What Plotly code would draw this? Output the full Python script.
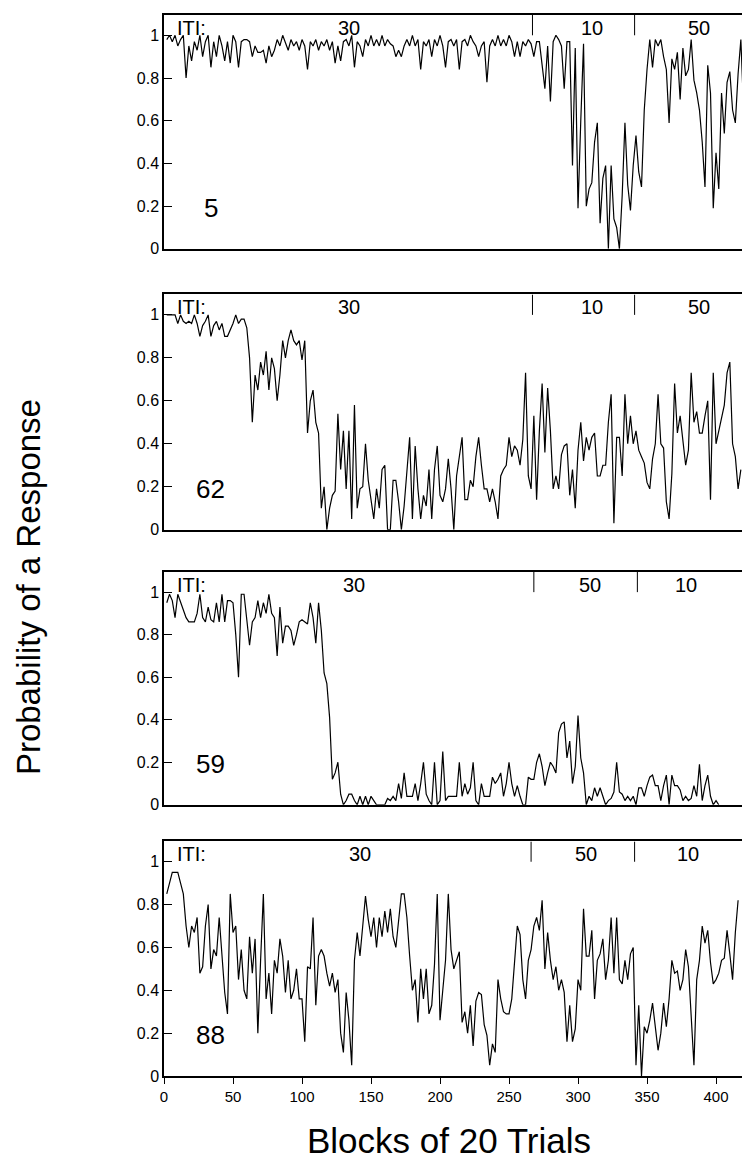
import plotly.graph_objects as go
from plotly.subplots import make_subplots

# probability of a response, one value every 2 blocks (blocks 2, 4, 6, ...)
p_rat5 = [
    0.98, 1.0, 0.97, 1.0, 0.95, 0.98, 1.0,
    0.80, 0.95, 0.88, 0.97, 0.93, 1.0, 0.9, 0.97,
    1.0, 0.85, 0.97, 0.9, 1.0, 0.95, 0.88, 0.97,
    0.87, 1.0, 0.97, 0.85, 0.97, 0.98, 0.98, 0.97,
    0.9, 0.95, 0.92, 0.92, 0.93, 0.87, 0.95, 0.9,
    0.93, 0.98, 0.95, 1.0, 0.96, 0.93, 0.98, 0.95,
    0.97, 0.93, 0.98, 0.95, 0.84, 0.97, 0.95, 0.98,
    0.93, 0.97, 0.95, 0.98, 0.93, 0.97, 0.87, 0.95,
    0.88, 0.97, 0.98, 0.95, 1.0, 0.85, 0.97, 0.95,
    0.9, 0.98, 0.95, 1.0, 0.95, 0.98, 0.95, 1.0,
    0.95, 0.98, 0.96, 0.95, 0.9, 0.93, 0.9, 0.95,
    0.98, 0.95, 1.0, 0.95, 0.98, 0.84, 0.97, 0.95,
    0.98, 0.9, 0.98, 0.95, 1.0, 0.95, 0.85, 0.97,
    0.98, 0.95, 0.98, 0.84, 0.97, 0.98, 0.95, 1.0,
    0.97, 0.95, 0.9, 0.95, 0.97, 0.78, 0.95, 0.98,
    0.95, 1.0, 0.95, 0.98, 0.95, 1.0, 0.97, 0.9,
    0.97, 0.9, 0.97, 0.95, 0.98, 0.96, 0.9, 0.97,
    0.97, 0.85, 0.75, 0.95, 0.69, 0.97, 1.0, 0.98,
    0.95, 0.75, 0.97, 0.97, 0.39, 0.94, 0.19, 0.6,
    0.96, 0.2, 0.28, 0.31, 0.5, 0.59, 0.12, 0.33,
    0.39, 0.0, 0.39, 0.14, 0.1, 0.0, 0.25, 0.59,
    0.3, 0.18, 0.39, 0.53, 0.36, 0.29, 0.65, 0.84,
    0.98, 0.85, 0.98, 0.95, 0.98, 0.9, 0.84, 0.59,
    0.89, 0.84, 0.92, 0.7, 0.94, 0.81, 0.84, 0.98,
    0.79, 0.73, 0.65, 0.5, 0.29, 0.86, 0.73, 0.19,
    0.45, 0.28, 0.73, 0.54, 0.78, 0.83, 0.65, 0.59,
    0.82, 0.98, 0.65,
]

p_rat62 = [
    1.0, 1.0, 1.0, 1.0, 0.96, 1.0, 0.97, 0.96,
    0.97, 0.96, 1.0, 0.96, 0.9, 0.95, 0.97, 1.0,
    0.9, 0.95, 0.97, 0.93, 0.96, 0.9, 0.9, 0.93,
    0.96, 1.0, 0.96, 0.98, 0.98, 0.94, 0.8, 0.5,
    0.72, 0.65, 0.78, 0.72, 0.83, 0.65, 0.8, 0.75,
    0.6, 0.72, 0.88, 0.8, 0.88, 0.93, 0.88, 0.86,
    0.88, 0.79, 0.88, 0.45, 0.6, 0.65, 0.5, 0.45,
    0.1, 0.2, 0.0, 0.1, 0.16, 0.18, 0.54, 0.28,
    0.46, 0.19, 0.46, 0.05, 0.58, 0.1, 0.19, 0.2,
    0.4, 0.23, 0.15, 0.05, 0.19, 0.1, 0.28, 0.3,
    0.0, 0.0, 0.23, 0.23, 0.13, 0.0, 0.11, 0.28,
    0.43, 0.05, 0.39, 0.19, 0.05, 0.16, 0.11, 0.28,
    0.05, 0.28, 0.39, 0.16, 0.13, 0.19, 0.33, 0.19,
    0.0, 0.25, 0.33, 0.43, 0.14, 0.14, 0.23, 0.2,
    0.34, 0.43, 0.3, 0.19, 0.19, 0.13, 0.19, 0.13,
    0.05, 0.25, 0.28, 0.3, 0.43, 0.34, 0.39, 0.37,
    0.3, 0.42, 0.73, 0.25, 0.19, 0.53, 0.14, 0.46,
    0.68, 0.36, 0.66, 0.46, 0.19, 0.25, 0.19, 0.35,
    0.39, 0.4, 0.16, 0.28, 0.1, 0.37, 0.5, 0.32,
    0.43, 0.37, 0.43, 0.45, 0.25, 0.25, 0.3, 0.3,
    0.5, 0.63, 0.03, 0.43, 0.43, 0.25, 0.63, 0.4,
    0.53, 0.4, 0.46, 0.37, 0.34, 0.31, 0.22, 0.19,
    0.33, 0.4, 0.63, 0.4, 0.38, 0.13, 0.05, 0.26,
    0.68, 0.45, 0.53, 0.42, 0.3, 0.37, 0.73, 0.5,
    0.55, 0.45, 0.45, 0.53, 0.6, 0.14, 0.73, 0.4,
    0.46, 0.53, 0.58, 0.73, 0.78, 0.4, 0.34, 0.19,
    0.28,
]

p_rat59 = [
    0.95, 0.99, 0.96, 0.88, 0.99, 0.95, 0.91, 0.88,
    0.86, 0.86, 0.86, 0.9, 0.99, 0.88, 0.86, 0.93,
    0.87, 0.86, 0.95, 0.86, 0.99, 0.86, 0.96, 0.96,
    0.95, 0.8, 0.6, 0.99, 0.99, 0.87, 0.75, 0.86,
    0.88, 0.96, 0.88, 0.95, 0.9, 0.99, 0.9, 0.88,
    0.7, 0.93, 0.76, 0.84, 0.84, 0.82, 0.75, 0.8,
    0.86, 0.87, 0.86, 0.85, 0.95, 0.88, 0.76, 0.95,
    0.82, 0.62, 0.57, 0.41, 0.12, 0.15, 0.2, 0.05,
    0.0, 0.02, 0.05, 0.05, 0.02, 0.0, 0.04, 0.0,
    0.04, 0.0, 0.04, 0.02, 0.0, 0.0, 0.0, 0.0,
    0.03, 0.02, 0.04, 0.02, 0.1, 0.03, 0.15, 0.04,
    0.04, 0.04, 0.1, 0.02, 0.1, 0.2, 0.05, 0.02,
    0.0, 0.2, 0.0, 0.02, 0.25, 0.02, 0.04, 0.04,
    0.04, 0.04, 0.2, 0.04, 0.1, 0.05, 0.08, 0.2,
    0.02, 0.0, 0.1, 0.04, 0.04, 0.04, 0.13, 0.1,
    0.12, 0.15, 0.04, 0.1, 0.2, 0.1, 0.04, 0.09,
    0.04, 0.0, 0.0, 0.13, 0.12, 0.12, 0.2, 0.24,
    0.18, 0.09, 0.15, 0.2, 0.18, 0.15, 0.34, 0.38,
    0.39, 0.22, 0.3, 0.1, 0.18, 0.42, 0.22, 0.15,
    0.0, 0.04, 0.02, 0.08, 0.04, 0.08, 0.04, 0.0,
    0.02, 0.03, 0.06, 0.2, 0.06, 0.05, 0.02, 0.04,
    0.02, 0.04, 0.0, 0.08, 0.08, 0.04, 0.09, 0.13,
    0.14, 0.09, 0.09, 0.02, 0.09, 0.14, 0.0, 0.14,
    0.09, 0.09, 0.07, 0.02, 0.04, 0.02, 0.03, 0.09,
    0.04, 0.19, 0.02, 0.09, 0.14, 0.04, 0.0, 0.02,
    0.0,
]

p_rat88 = [
    0.85, 0.9, 0.95, 0.95, 0.95, 0.9, 0.85, 0.7,
    0.6, 0.7, 0.67, 0.74, 0.48, 0.51, 0.7, 0.8,
    0.5, 0.59, 0.56, 0.74, 0.54, 0.39, 0.29, 0.85,
    0.67, 0.7, 0.45, 0.59, 0.4, 0.36, 0.65, 0.48,
    0.64, 0.2, 0.54, 0.85, 0.36, 0.48, 0.29, 0.54,
    0.48, 0.64, 0.56, 0.39, 0.54, 0.36, 0.4, 0.5,
    0.36, 0.36, 0.16, 0.51, 0.5, 0.74, 0.33, 0.56,
    0.59, 0.56, 0.48, 0.42, 0.48, 0.39, 0.45, 0.2,
    0.11, 0.39, 0.26, 0.05, 0.54, 0.67, 0.56, 0.7,
    0.84, 0.73, 0.65, 0.74, 0.6, 0.74, 0.65, 0.77,
    0.67, 0.78, 0.65, 0.6, 0.74, 0.85, 0.85, 0.74,
    0.56, 0.4, 0.45, 0.25, 0.5, 0.36, 0.5, 0.29,
    0.33, 0.52, 0.85, 0.26, 0.4, 0.54, 0.85, 0.59,
    0.5, 0.54, 0.58, 0.25, 0.3, 0.2, 0.33, 0.14,
    0.35, 0.39, 0.38, 0.24, 0.19, 0.05, 0.15, 0.11,
    0.45, 0.36, 0.3, 0.29, 0.29, 0.36, 0.54, 0.7,
    0.66, 0.45, 0.36, 0.54, 0.59, 0.7, 0.74, 0.68,
    0.82, 0.5, 0.67, 0.54, 0.45, 0.51, 0.4, 0.45,
    0.39, 0.16, 0.33, 0.16, 0.22, 0.45, 0.4, 0.78,
    0.56, 0.56, 0.68, 0.36, 0.54, 0.57, 0.64, 0.45,
    0.54, 0.74, 0.48, 0.74, 0.45, 0.43, 0.54, 0.45,
    0.57, 0.6, 0.05, 0.33, 0.0, 0.23, 0.2, 0.26,
    0.34, 0.23, 0.12, 0.2, 0.34, 0.23, 0.36, 0.54,
    0.48, 0.49, 0.4, 0.45, 0.59, 0.51, 0.29, 0.05,
    0.45, 0.54, 0.7, 0.62, 0.68, 0.53, 0.43, 0.45,
    0.48, 0.54, 0.55, 0.68, 0.57, 0.45, 0.67, 0.82,
]

rats = ['5', '62', '59', '88']
series = [p_rat5, p_rat62, p_rat59, p_rat88]

# ITI phases: labels, where they sit, and the block where each phase changes
iti_labels = [['30', '10', '50'], ['30', '10', '50'], ['30', '50', '10'], ['30', '50', '10']]
iti_label_x = [[134, 310, 388], [134, 310, 388], [138, 309, 378], [142, 306, 380]]
iti_bounds = [[267, 341], [267, 341], [268, 343], [266, 341]]

font = 'Liberation Sans, Arial, sans-serif'
domains = [[0.7796, 1.0], [0.5149, 0.7366], [0.2556, 0.4751], [0.0, 0.2211]]

fig = make_subplots(rows=4, cols=1)

for i, vals in enumerate(series):
    row = i + 1
    xr = 'x' if row == 1 else f'x{row}'
    yr = 'y' if row == 1 else f'y{row}'
    blocks = list(range(2, 2 * len(vals) + 1, 2))
    fig.add_trace(go.Scatter(x=blocks, y=vals, mode='lines',
                             line=dict(color='black', width=1.2),
                             showlegend=False), row=row, col=1)

    fig.update_yaxes(domain=domains[i], range=[0, 1.095], tickvals=[0, 0.2, 0.4, 0.6, 0.8, 1],
                     ticktext=['0', '0.2', '0.4', '0.6', '0.8', '1'],
                     ticks='inside', ticklen=8, tickcolor='black', tickfont=dict(size=16),
                     showline=True, mirror=True, linecolor='black', linewidth=1.5,
                     showgrid=False, zeroline=False, row=row, col=1)
    fig.update_xaxes(range=[0, 421], showline=True, mirror=True, linecolor='black',
                     linewidth=1.5, showgrid=False, zeroline=False,
                     showticklabels=(row == 4), ticks='outside' if row == 4 else '',
                     ticklen=6, tickcolor='black', dtick=50, tickfont=dict(size=15),
                     row=row, col=1)

    # ITI labels and phase dividers
    fig.add_annotation(x=8, y=1.035, xref=xr, yref=yr, text='ITI:', showarrow=False,
                       xanchor='left', font=dict(size=20, color='black', family=font))
    for lab, lx in zip(iti_labels[i], iti_label_x[i]):
        fig.add_annotation(x=lx, y=1.035, xref=xr, yref=yr, text=lab, showarrow=False,
                           font=dict(size=20, color='black', family=font))
    for b in iti_bounds[i]:
        fig.add_shape(type='line', x0=b, x1=b, y0=1.0, y1=1.095, xref=xr, yref=yr,
                      line=dict(color='black', width=1))

    # rat number
    fig.add_annotation(x=34, y=0.19, xref=xr, yref=yr, text=rats[i], showarrow=False,
                       font=dict(size=26, color='black', family=font))

fig.add_annotation(x=-0.232, y=0.461, xref='paper', yref='paper', xanchor='center',
                   yanchor='middle', text='Probability of a Response', textangle=-90,
                   showarrow=False, font=dict(size=33, color='black', family=font))
fig.add_annotation(x=0.49, y=-0.061, xref='paper', yref='paper', xanchor='center',
                   yanchor='middle', text='Blocks of 20 Trials', showarrow=False,
                   font=dict(size=35, color='black', family=font))

fig.update_layout(
    width=750, height=1169,
    margin=dict(l=156, r=13, t=5, b=101),
    paper_bgcolor='white', plot_bgcolor='white',
    font=dict(family=font, size=14, color='black'),
    showlegend=False,
)

fig.write_html("out.html")
